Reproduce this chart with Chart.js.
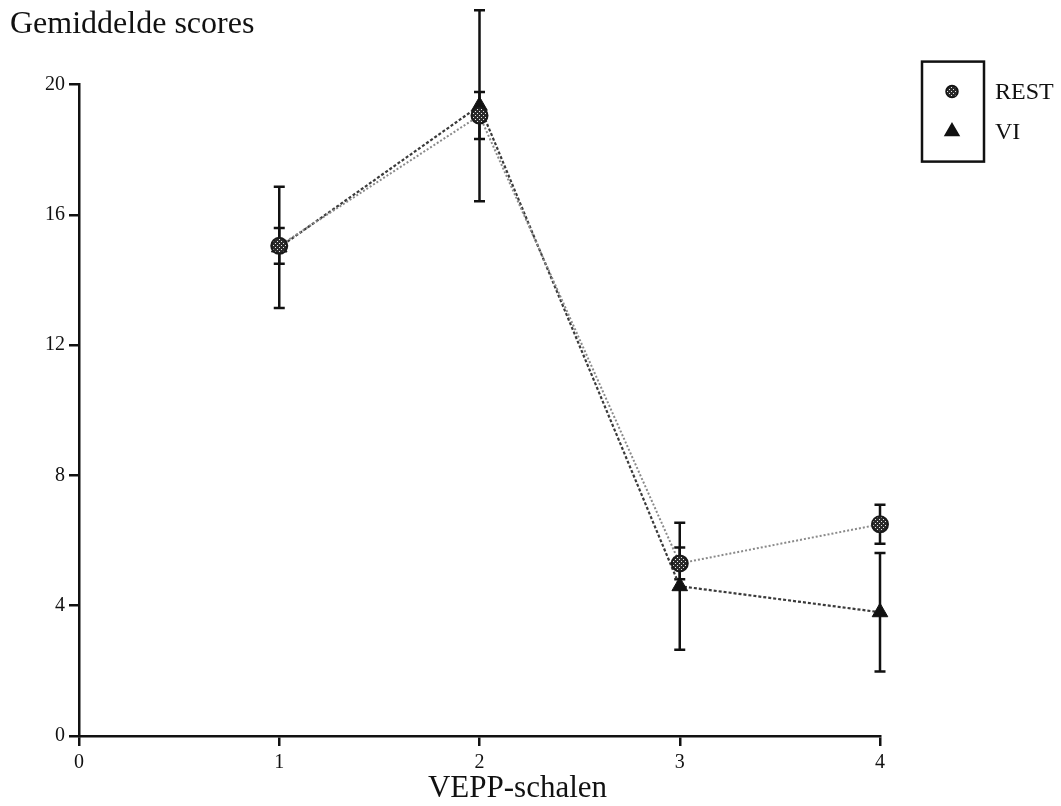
<!DOCTYPE html>
<html>
<head>
<meta charset="utf-8">
<script src="https://cdn.jsdelivr.net/npm/chart.js@4/dist/chart.umd.min.js"></script>
<style>
html,body{margin:0;padding:0;background:#fff;}
canvas{display:block;}
</style>
</head>
<body>
<canvas id="c" width="1061" height="806"></canvas>
<script>
const scales = [1, 2, 3, 4];
const seriesNames = ['REST', 'VI'];
const restMean = [15.05, 19.05, 5.3, 6.5];
const restErr = [0.55, 0.72, 0.49, 0.6];
const viMean = [15.0, 19.35, 4.6, 3.8];
const viErr = [1.86, 2.93, 1.95, 1.82];
const xTicks = [0, 1, 2, 3, 4];
const yTicks = [0, 4, 8, 12, 16, 20];
const yTitle = 'Gemiddelde scores';
const xTitle = 'VEPP-schalen';

const SERIF = '"Liberation Serif", "Times New Roman", serif';

// patterned fill for circle markers
function makePattern() {
  const pc = document.createElement('canvas');
  pc.width = 4; pc.height = 4;
  const p = pc.getContext('2d');
  p.fillStyle = '#2a2a2a'; p.fillRect(0, 0, 4, 4);
  p.fillStyle = '#e8e8e8';
  p.fillRect(1, 1, 1, 1); p.fillRect(3, 3, 1, 1);
  return document.getElementById('c').getContext('2d').createPattern(pc, 'repeat');
}
const circleFill = makePattern();

const errorBars = {
  id: 'errorBars',
  beforeDatasetsDraw(chart) {
    const ctx = chart.ctx;
    const ys = chart.scales.y;
    ctx.save();
    ctx.strokeStyle = '#111';
    ctx.lineWidth = 2.5;
    chart.data.datasets.forEach((ds, di) => {
      const meta = chart.getDatasetMeta(di);
      meta.data.forEach((pt, i) => {
        const v = ds.data[i].y, e = ds.errs[i];
        const yTop = ys.getPixelForValue(v + e);
        const yBot = ys.getPixelForValue(v - e);
        const x = pt.x, cw = 5.5;
        ctx.beginPath();
        ctx.moveTo(x, yTop); ctx.lineTo(x, yBot);
        ctx.moveTo(x - cw, yTop); ctx.lineTo(x + cw, yTop);
        ctx.moveTo(x - cw, yBot); ctx.lineTo(x + cw, yBot);
        ctx.stroke();
      });
    });
    ctx.restore();
  }
};

const boxLegend = {
  id: 'boxLegend',
  afterDraw(chart) {
    const ctx = chart.ctx;
    const ca = chart.chartArea;
    const bx = ca.right + 42, by = ca.top - 23, bw = 62, bh = 100;
    ctx.save();
    ctx.strokeStyle = '#111';
    ctx.lineWidth = 2.5;
    ctx.strokeRect(bx, by, bw, bh);
    ctx.font = '24px ' + SERIF;
    ctx.textBaseline = 'middle';
    chart.data.datasets.forEach((ds, i) => {
      const cy = by + 30 + i * 40;
      ctx.fillStyle = ds.pointStyle === 'circle' ? circleFill : '#111';
      ctx.strokeStyle = '#111';
      ctx.lineWidth = 1.5;
      Chart.helpers.drawPoint(ctx, {pointStyle: ds.pointStyle, radius: ds.pointStyle === 'circle' ? 6 : 8, rotation: 0, borderWidth: 1.5}, bx + 30, cy);
      ctx.fillStyle = '#111';
      ctx.fillText(ds.label, bx + bw + 11, cy + 1);
    });
    // x-axis title, set slightly right of centre as in the original
    ctx.font = '31px ' + SERIF;
    ctx.textAlign = 'center';
    ctx.textBaseline = 'alphabetic';
    ctx.fillText(xTitle, (ca.left + ca.right) / 2 + 38, ca.bottom + 61);
    ctx.restore();
  }
};

const mk = (m) => scales.map((x, i) => ({x: x, y: m[i]}));

new Chart(document.getElementById('c'), {
  type: 'line',
  data: {
    datasets: [
      {
        label: seriesNames[0],
        data: mk(restMean),
        errs: restErr,
        borderColor: '#8a8a8a',
        borderWidth: 2,
        borderDash: [2, 2],
        pointStyle: 'circle',
        pointRadius: 8,
        pointBackgroundColor: circleFill,
        pointBorderColor: '#1a1a1a',
        pointBorderWidth: 2,
        clip: false,
        tension: 0
      },
      {
        label: seriesNames[1],
        data: mk(viMean),
        errs: viErr,
        borderColor: '#3a3a3a',
        borderWidth: 2.2,
        borderDash: [3, 2],
        pointStyle: 'triangle',
        pointRadius: 9,
        pointBackgroundColor: '#111',
        pointBorderColor: '#111',
        pointBorderWidth: 1,
        clip: false,
        tension: 0
      }
    ]
  },
  options: {
    responsive: false,
    animation: false,
    events: [],
    layout: {padding: {left: 10, right: 181, top: 0, bottom: 0}},
    plugins: {
      legend: {display: false},
      tooltip: {enabled: false},
      title: {
        display: true,
        text: yTitle,
        align: 'start',
        color: '#111',
        font: {family: SERIF, size: 32, weight: 'normal'},
        padding: {top: 5, bottom: 41.2}
      }
    },
    scales: {
      x: {
        type: 'linear',
        min: 0, max: 4,
        afterBuildTicks: (s) => { s.ticks = xTicks.map(v => ({value: v})); },
        afterFit: (s) => { s.height = 70; },
        grid: {display: true, drawOnChartArea: false, drawTicks: true, tickLength: 10, color: '#111', lineWidth: 2.5},
        border: {display: true, color: '#111', width: 2.5},
        ticks: {color: '#111', font: {family: SERIF, size: 20}, padding: 5, maxRotation: 0},
        title: {display: false, text: xTitle}
      },
      y: {
        type: 'linear',
        min: 0, max: 20,
        afterBuildTicks: (s) => { s.ticks = yTicks.map(v => ({value: v})); },
        afterFit: (s) => { s.width = 69; },
        grid: {display: true, drawOnChartArea: false, drawTicks: true, tickLength: 10, color: '#111', lineWidth: 2.5},
        border: {display: true, color: '#111', width: 2.5},
        ticks: {color: '#111', font: {family: SERIF, size: 20}, padding: 4}
      }
    }
  },
  plugins: [errorBars, boxLegend]
});
</script>
</body>
</html>
